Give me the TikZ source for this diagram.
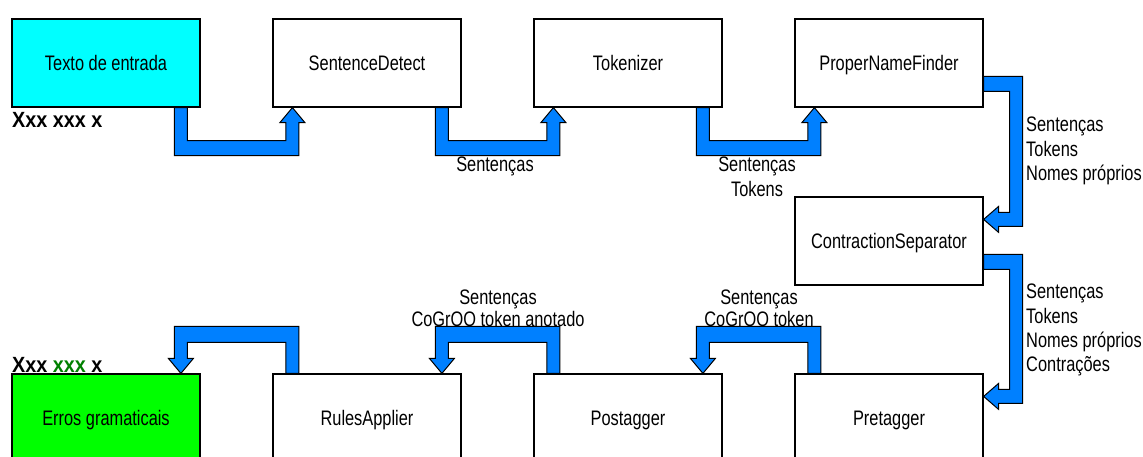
\documentclass[tikz,border=0pt]{standalone}
\usepackage{fontspec}
\setmainfont{Liberation Sans}[FakeStretch=0.78]
\newfontfamily\marcafont{Liberation Sans}[FakeStretch=0.9]
\usetikzlibrary{calc}

\definecolor{azultubo}{RGB}{0,128,255}
\definecolor{ciano}{RGB}{0,255,255}
\definecolor{verde}{RGB}{0,255,0}
\definecolor{verdeescuro}{RGB}{0,128,0}

\tikzset{
  modulo/.style={draw=black, line width=1.2pt, fill=white, minimum width=188pt, minimum height=88pt,
    inner sep=0pt, font=\fontsize{21}{24}\selectfont, text height=15pt, text depth=0pt},
  tubo/.style={draw=black, line width=1pt, fill=azultubo, line join=miter},
  rotulo/.style={inner sep=0pt, align=center, font=\fontsize{21}{24.3}\selectfont},
  marca/.style={inner sep=0pt, font=\marcafont\bfseries\fontsize{22}{24}\selectfont}
}

% tubo da sotto a sotto (riga alta)
\newcommand{\tubosotto}[2]{%
  \draw[tubo] let \p1=(#1.south west), \p2=(#2.south west) in
    (\x1+163pt,\y1) -- (\x1+163pt,\y1-48pt) -- (\x2+26.5pt,\y1-48pt) -- (\x2+26.5pt,\y2-15pt)
    -- (\x2+32.5pt,\y2-15pt) -- (\x2+20pt,\y2) -- (\x2+7.5pt,\y2-15pt) -- (\x2+13.5pt,\y2-15pt)
    -- (\x2+13.5pt,\y1-33pt) -- (\x1+176pt,\y1-33pt) -- (\x1+176pt,\y1) -- cycle;}
% tubo da sopra a sopra (riga bassa)
\newcommand{\tubosopra}[2]{%
  \draw[tubo] let \p1=(#1.north west), \p2=(#2.north west) in
    (\x1+26.5pt,\y1) -- (\x1+26.5pt,\y1+47pt) -- (\x2+163pt,\y1+47pt) -- (\x2+163pt,\y2+15pt)
    -- (\x2+157pt,\y2+15pt) -- (\x2+169.5pt,\y2) -- (\x2+182pt,\y2+15pt) -- (\x2+176pt,\y2+15pt)
    -- (\x2+176pt,\y1+31pt) -- (\x1+13.5pt,\y1+31pt) -- (\x1+13.5pt,\y1) -- cycle;}
% tubo sul lato destro
\newcommand{\tubolato}[2]{%
  \draw[tubo] let \p1=(#1.north east), \p2=(#2.north east) in
    (\x1,\y1-58pt) -- (\x1+39pt,\y1-58pt) -- (\x1+39pt,\y2-30pt) -- (\x2+15pt,\y2-30pt)
    -- (\x2+15pt,\y2-36pt) -- (\x2,\y2-23pt) -- (\x2+15pt,\y2-10pt) -- (\x2+15pt,\y2-16pt)
    -- (\x1+26pt,\y2-16pt) -- (\x1+26pt,\y1-73pt) -- (\x1,\y1-73pt) -- cycle;}

\begin{document}
\begin{tikzpicture}[x=1pt, y=-1pt]
    \useasboundingbox (0,0) rectangle (1143,457);
    \clip (0,0) rectangle (1143,457);

     % I moduli
    \node[modulo, fill=ciano] (entrada) at (106,63) {Texto de entrada};
    \node[modulo] (sentdetect) at (367,63) {SentenceDetect};
    \node[modulo] (tokenizer) at (628,63) {Tokenizer};
    \node[modulo] (pnfinder) at (889,63) {ProperNameFinder};
    \node[modulo] (contrsep) at (889,241) {ContractionSeparator};
    \node[modulo] (pretagger) at (889,418) {Pretagger};
    \node[modulo] (postagger) at (628,418) {Postagger};
    \node[modulo] (rules) at (367,418) {RulesApplier};
    \node[modulo, fill=verde] (erros) at (106,418) {Erros gramaticais};

     % I tubi
    \tubosotto{entrada}{sentdetect}
    \tubosotto{sentdetect}{tokenizer}
    \tubosotto{tokenizer}{pnfinder}
    \tubolato{pnfinder}{contrsep}
    \tubolato{contrsep}{pretagger}
    \tubosopra{pretagger}{postagger}
    \tubosopra{postagger}{rules}
    \tubosopra{rules}{erros}

     % Le etichette
    \node[marca, anchor=base west] (frase1) at (12,128) {Xxx xxx x};
    \node[marca, anchor=base west] (frase2) at (12,372) {Xxx \textcolor{verdeescuro}{xxx} x};
    \node[rotulo, anchor=north] (lb1) at (495,157) {Sentenças};
    \node[rotulo, anchor=north] (lb2) at (757,157) {Sentenças\\Tokens};
    \node[rotulo, anchor=north west, align=left] (lb3) at (1026,117) {Sentenças\\Tokens\\Nomes próprios};
    \node[rotulo, anchor=north west, align=left] (lb4) at (1026,284) {Sentenças\\Tokens\\Nomes próprios\\Contrações};
    \node[rotulo, anchor=north, font=\fontsize{21}{22}\selectfont] (lb5) at (759,290) {Sentenças\\CoGrOO token};
    \node[rotulo, anchor=north, font=\fontsize{21}{22}\selectfont] (lb6) at (498,290) {Sentenças\\CoGrOO token anotado};
\end{tikzpicture}
\end{document}
